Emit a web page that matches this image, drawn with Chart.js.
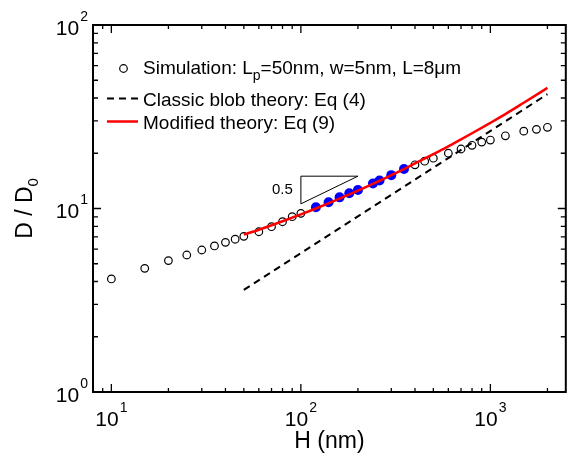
<!DOCTYPE html>
<html>
<head>
<meta charset="utf-8">
<script src="https://cdn.jsdelivr.net/npm/chart.js@4.4.1/dist/chart.umd.min.js"></script>
<style>
  body { margin: 0; background: #fff; }
  canvas { display: block; }
</style>
</head>
<body>
<canvas id="diffChart" width="571" height="454"></canvas>
<script>
// simulation, Lp=50nm, w=5nm, L=8um (open circles)
var simH = [10, 15, 20, 25, 30, 35, 40, 45, 50, 60, 70, 80, 90, 100,
            400, 450, 500, 600, 700, 800, 900, 1000, 1200, 1500, 1750, 2000];
var simD = [4.13, 4.72, 5.2, 5.58, 5.94, 6.25, 6.54, 6.8, 7.05, 7.47, 7.96, 8.47, 9.02, 9.41,
            17.3, 18.1, 18.8, 20.0, 21.1, 22.1, 23.0, 23.6, 24.9, 26.4, 27.0, 27.7];

// simulation points in the fitted range (filled blue)
var fitH = [120, 140, 160, 180, 200, 240, 260, 300, 350];
var fitD = [10.15, 10.81, 11.5, 12.1, 12.6, 13.7, 14.2, 15.2, 16.4];

// classic blob theory, Eq (4)
var blobH = [50, 2000];
var blobD = [3.6, 42];

// modified theory, Eq (9)
var modH = [50, 60, 70, 80, 100, 120, 150, 200, 250, 300, 350, 400, 500, 600, 700, 800, 1000, 1200, 1500, 2000];
var modD = [7.2, 7.66, 8.1, 8.52, 9.29, 10.0, 11.0, 12.5, 13.9, 15.2, 16.4, 17.6, 19.8, 21.8, 23.8, 25.7, 29.3, 32.7, 37.7, 45.4];

// slope triangle, exponent 0.5
var triH = [100, 100, 200, 100];
var triD = [10.6, 15.0, 15.0, 10.6];
var triLabel = "0.5";

// decade tick labels
var xExp = [1, 2, 3];
var yExp = [0, 1, 2];

var FONT = '"Liberation Sans", Arial, Helvetica, sans-serif';

function pts(xs, ys) {
    return xs.map(function (x, i) { return { x: x, y: ys[i] }; });
}

// 10^n label, anchored at x ('center' or 'right')
function powLabel(ctx, n, x, baseline, align) {
    ctx.font = '21px ' + FONT;
    var wb = ctx.measureText('10').width;
    ctx.font = '14px ' + FONT;
    var ws = ctx.measureText(String(n)).width;
    var total = wb + 1 + ws;
    var x0 = align === 'right' ? x - total : x - total / 2;
    ctx.textAlign = 'left';
    ctx.textBaseline = 'alphabetic';
    ctx.font = '21px ' + FONT;
    ctx.fillText('10', x0, baseline);
    ctx.font = '14px ' + FONT;
    ctx.fillText(String(n), x0 + wb + 1, baseline - 14);
}

var frame = {
    id: 'frame',
    afterDraw: function (chart) {
        var ctx = chart.ctx, a = chart.chartArea;
        var xs = chart.scales.x, ys = chart.scales.y;
        ctx.save();
        ctx.strokeStyle = '#000';
        ctx.fillStyle = '#000';
        ctx.setLineDash([]);

        // inward ticks on all four sides
        ctx.lineWidth = 1.3;
        ctx.beginPath();
        var k, m, v, p, len;
        for (k = 0; k < 4; k++) {
            for (m = 1; m < 10; m++) {
                v = m * Math.pow(10, k);
                if (v < xs.min || v > xs.max) continue;
                p = xs.getPixelForValue(v);
                len = m === 1 ? 8 : 4;
                ctx.moveTo(p, a.bottom); ctx.lineTo(p, a.bottom - len);
                ctx.moveTo(p, a.top); ctx.lineTo(p, a.top + len);
            }
        }
        for (k = 0; k < 3; k++) {
            for (m = 1; m < 10; m++) {
                v = m * Math.pow(10, k);
                if (v < ys.min || v > ys.max) continue;
                p = ys.getPixelForValue(v);
                len = m === 1 ? 8 : 5;
                ctx.moveTo(a.left, p); ctx.lineTo(a.left + len, p);
                ctx.moveTo(a.right, p); ctx.lineTo(a.right - len, p);
            }
        }
        ctx.stroke();

        // axes box
        ctx.lineWidth = 2;
        ctx.strokeRect(a.left, a.top, a.right - a.left, a.bottom - a.top);

        // tick labels
        xExp.forEach(function (n) {
            powLabel(ctx, n, xs.getPixelForValue(Math.pow(10, n)), a.bottom + 33.5, 'center');
        });
        yExp.forEach(function (n) {
            powLabel(ctx, n, a.left - 5, ys.getPixelForValue(Math.pow(10, n)) + 9.5, 'right');
        });

        // axis titles
        ctx.font = '23px ' + FONT;
        ctx.textAlign = 'center';
        ctx.textBaseline = 'alphabetic';
        ctx.fillText('H (nm)', (a.left + a.right) / 2, 448);

        ctx.save();
        ctx.translate(32, (a.top + a.bottom) / 2);
        ctx.rotate(-Math.PI / 2);
        ctx.font = '23px ' + FONT;
        var wMain = ctx.measureText('D / D').width;
        ctx.font = '15px ' + FONT;
        var wSub = ctx.measureText('0').width;
        var x0 = -(wMain + wSub) / 2;
        ctx.textAlign = 'left';
        ctx.font = '23px ' + FONT;
        ctx.fillText('D / D', x0, 0);
        ctx.font = '15px ' + FONT;
        ctx.fillText('0', x0 + wMain, 6);
        ctx.restore();

        // slope label
        ctx.font = '15px ' + FONT;
        ctx.textAlign = 'right';
        ctx.textBaseline = 'middle';
        ctx.fillText(triLabel, xs.getPixelForValue(triH[0]) - 8,
            (ys.getPixelForValue(triD[0]) + ys.getPixelForValue(triD[1])) / 2);

        // legend
        ctx.textAlign = 'left';
        ctx.textBaseline = 'alphabetic';
        ctx.lineWidth = 1.2;
        ctx.beginPath();
        ctx.arc(123.5, 68.5, 3.8, 0, 2 * Math.PI);
        ctx.stroke();
        ctx.font = '19px ' + FONT;
        var t1 = 'Simulation: L';
        ctx.fillText(t1, 143, 74);
        var tx = 143 + ctx.measureText(t1).width;
        ctx.font = '14px ' + FONT;
        ctx.fillText('p', tx, 80);
        tx += ctx.measureText('p').width;
        ctx.font = '19px ' + FONT;
        ctx.fillText('=50nm, w=5nm, L=8\u03bcm', tx, 74);

        ctx.lineWidth = 2;
        ctx.setLineDash([7, 5]);
        ctx.beginPath();
        ctx.moveTo(107, 98.5); ctx.lineTo(138, 98.5);
        ctx.stroke();
        ctx.setLineDash([]);
        ctx.fillText('Classic blob theory: Eq (4)', 143, 106);

        ctx.strokeStyle = '#ff0000';
        ctx.lineWidth = 2.5;
        ctx.beginPath();
        ctx.moveTo(107, 121.5); ctx.lineTo(138, 121.5);
        ctx.stroke();
        ctx.fillText('Modified theory: Eq (9)', 143, 129);

        ctx.restore();
    }
};

new Chart(document.getElementById('diffChart'), {
    type: 'scatter',
    data: {
        datasets: [
            {
                data: pts(modH, modD),
                showLine: true,
                cubicInterpolationMode: 'monotone',
                borderColor: '#ff0000',
                borderWidth: 2.5,
                pointRadius: 0
            },
            {
                data: pts(fitH, fitD),
                pointRadius: 5,
                pointBorderWidth: 0,
                backgroundColor: '#0000ff',
                borderColor: '#0000ff'
            },
            {
                data: pts(blobH, blobD),
                showLine: true,
                borderColor: '#000',
                borderWidth: 2,
                borderDash: [7, 5],
                pointRadius: 0
            },
            {
                data: pts(simH, simD),
                pointRadius: 3.8,
                pointBorderWidth: 1.2,
                borderColor: '#000',
                backgroundColor: 'rgba(0,0,0,0)'
            },
            {
                data: pts(triH, triD),
                showLine: true,
                borderColor: '#000',
                borderWidth: 1,
                pointRadius: 0
            }
        ]
    },
    options: {
        responsive: false,
        animation: false,
        layout: { padding: { left: 93, right: 4, top: 25, bottom: 62 } },
        plugins: { legend: { display: false }, tooltip: { enabled: false } },
        scales: {
            x: { type: 'logarithmic', min: 8, max: 2500, display: false },
            y: { type: 'logarithmic', min: 1, max: 100, display: false }
        }
    },
    plugins: [frame]
});
</script>
</body>
</html>
